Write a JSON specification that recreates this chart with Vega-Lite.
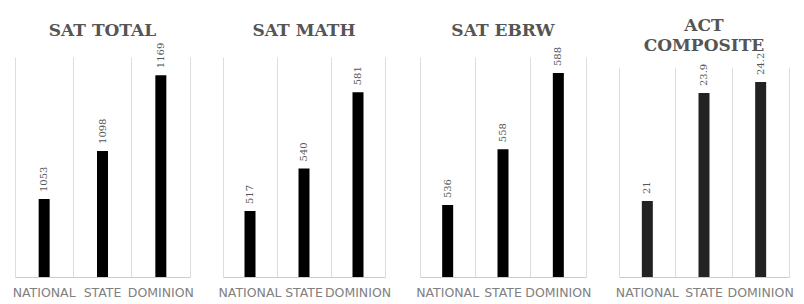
{
  "$schema": "https://vega.github.io/schema/vega-lite/v6.json",
  "padding": {"left": 12, "top": 4, "right": 5, "bottom": 0},
  "background": "white",
  "spacing": 24,
  "datasets": {
    "scores": [
      {"test": "SAT TOTAL", "group": "NATIONAL", "score": 1053},
      {"test": "SAT TOTAL", "group": "STATE", "score": 1098},
      {"test": "SAT TOTAL", "group": "DOMINION", "score": 1169},
      {"test": "SAT MATH", "group": "NATIONAL", "score": 517},
      {"test": "SAT MATH", "group": "STATE", "score": 540},
      {"test": "SAT MATH", "group": "DOMINION", "score": 581},
      {"test": "SAT EBRW", "group": "NATIONAL", "score": 536},
      {"test": "SAT EBRW", "group": "STATE", "score": 558},
      {"test": "SAT EBRW", "group": "DOMINION", "score": 588},
      {"test": "ACT COMPOSITE", "group": "NATIONAL", "score": 21},
      {"test": "ACT COMPOSITE", "group": "STATE", "score": 23.9},
      {"test": "ACT COMPOSITE", "group": "DOMINION", "score": 24.2}
    ],
    "titles": [
      {"test": "SAT TOTAL", "label": "SAT TOTAL"},
      {"test": "SAT MATH", "label": "SAT MATH"},
      {"test": "SAT EBRW", "label": "SAT EBRW"},
      {"test": "ACT COMPOSITE", "label": "ACT\nCOMPOSITE"}
    ]
  },
  "config": {
    "view": {"stroke": null},
    "text": {"font": "DejaVu Serif"},
    "axisX": {
      "title": null, "labelAngle": 0, "labelFont": "DejaVu Sans", "labelFontSize": 12.5, "labelColor": "#808080",
      "labelPadding": 9, "ticks": false, "domainColor": "#cccccc", "grid": true, "gridColor": "#dddddd",
      "bandPosition": 0, "labelOverlap": false, "labelLimit": 0
    },
    "axisY": {
      "title": null, "orient": "right", "labels": false, "ticks": false, "grid": false, "domain": true, "domainColor": "#dddddd"
    }
  },
  "hconcat": [
    {
      "bounds": "flush", "spacing": 0,
      "vconcat": [
        {
          "width": 175, "height": 53,
          "data": {"name": "titles"},
          "transform": [{"filter": "datum.test === 'SAT TOTAL'"}],
          "mark": {"type": "text", "font": "DejaVu Serif", "fontSize": 17, "fontWeight": "bold", "color": "#555555", "baseline": "middle", "align": "center"},
          "encoding": {"text": {"field": "label"}}
        },
        {
          "width": 175, "height": 220,
          "data": {"name": "scores"},
          "transform": [{"filter": "datum.test === 'SAT TOTAL'"}],
          "encoding": {
            "x": {"field": "group", "type": "nominal", "sort": ["NATIONAL", "STATE", "DOMINION"], "scale": {"paddingInner": 0, "paddingOuter": 0}},
            "y": {"field": "score", "type": "quantitative", "scale": {"domain": [980, 1186], "nice": false, "zero": false}}
          },
          "layer": [
            {"mark": {"type": "bar", "size": 11, "color": "#000000", "clip": true}},
            {"mark": {"type": "text", "angle": 270, "align": "left", "baseline": "middle", "dx": 7, "fontSize": 10, "color": "#555555"}, "encoding": {"text": {"field": "score"}}}
          ]
        }
      ]
    },
    {
      "bounds": "flush", "spacing": 0,
      "vconcat": [
        {
          "width": 162, "height": 53,
          "data": {"name": "titles"},
          "transform": [{"filter": "datum.test === 'SAT MATH'"}],
          "mark": {"type": "text", "font": "DejaVu Serif", "fontSize": 17, "fontWeight": "bold", "color": "#555555", "baseline": "middle", "align": "center"},
          "encoding": {"text": {"field": "label"}}
        },
        {
          "width": 162, "height": 220,
          "data": {"name": "scores"},
          "transform": [{"filter": "datum.test === 'SAT MATH'"}],
          "encoding": {
            "x": {"field": "group", "type": "nominal", "sort": ["NATIONAL", "STATE", "DOMINION"], "scale": {"paddingInner": 0, "paddingOuter": 0}},
            "y": {"field": "score", "type": "quantitative", "scale": {"domain": [481.5, 600], "nice": false, "zero": false}}
          },
          "layer": [
            {"mark": {"type": "bar", "size": 11, "color": "#000000", "clip": true}},
            {"mark": {"type": "text", "angle": 270, "align": "left", "baseline": "middle", "dx": 7, "fontSize": 10, "color": "#555555"}, "encoding": {"text": {"field": "score"}}}
          ]
        }
      ]
    },
    {
      "bounds": "flush", "spacing": 0,
      "vconcat": [
        {
          "width": 166, "height": 53,
          "data": {"name": "titles"},
          "transform": [{"filter": "datum.test === 'SAT EBRW'"}],
          "mark": {"type": "text", "font": "DejaVu Serif", "fontSize": 17, "fontWeight": "bold", "color": "#555555", "baseline": "middle", "align": "center"},
          "encoding": {"text": {"field": "label"}}
        },
        {
          "width": 166, "height": 220,
          "data": {"name": "scores"},
          "transform": [{"filter": "datum.test === 'SAT EBRW'"}],
          "encoding": {
            "x": {"field": "group", "type": "nominal", "sort": ["NATIONAL", "STATE", "DOMINION"], "scale": {"paddingInner": 0, "paddingOuter": 0}},
            "y": {"field": "score", "type": "quantitative", "scale": {"domain": [507.7, 594.3], "nice": false, "zero": false}}
          },
          "layer": [
            {"mark": {"type": "bar", "size": 11, "color": "#000000", "clip": true}},
            {"mark": {"type": "text", "angle": 270, "align": "left", "baseline": "middle", "dx": 7, "fontSize": 10, "color": "#555555"}, "encoding": {"text": {"field": "score"}}}
          ]
        }
      ]
    },
    {
      "bounds": "flush", "spacing": 20,
      "vconcat": [
        {
          "width": 170, "height": 43,
          "data": {"name": "titles"},
          "transform": [{"filter": "datum.test === 'ACT COMPOSITE'"}],
          "mark": {"type": "text", "font": "DejaVu Serif", "fontSize": 17, "fontWeight": "bold", "color": "#555555", "baseline": "middle", "align": "center", "lineBreak": "\n", "lineHeight": 20},
          "encoding": {"text": {"field": "label"}}
        },
        {
          "width": 170, "height": 210,
          "data": {"name": "scores"},
          "transform": [{"filter": "datum.test === 'ACT COMPOSITE'"}],
          "encoding": {
            "x": {"field": "group", "type": "nominal", "sort": ["NATIONAL", "STATE", "DOMINION"], "scale": {"paddingInner": 0, "paddingOuter": 0}},
            "y": {"field": "score", "type": "quantitative", "scale": {"domain": [18.96, 24.6], "nice": false, "zero": false}}
          },
          "layer": [
            {"mark": {"type": "bar", "size": 11, "color": "#222222", "clip": true}},
            {"mark": {"type": "text", "angle": 270, "align": "left", "baseline": "middle", "dx": 7, "fontSize": 10, "color": "#555555"}, "encoding": {"text": {"field": "score"}}}
          ]
        }
      ]
    }
  ]
}
